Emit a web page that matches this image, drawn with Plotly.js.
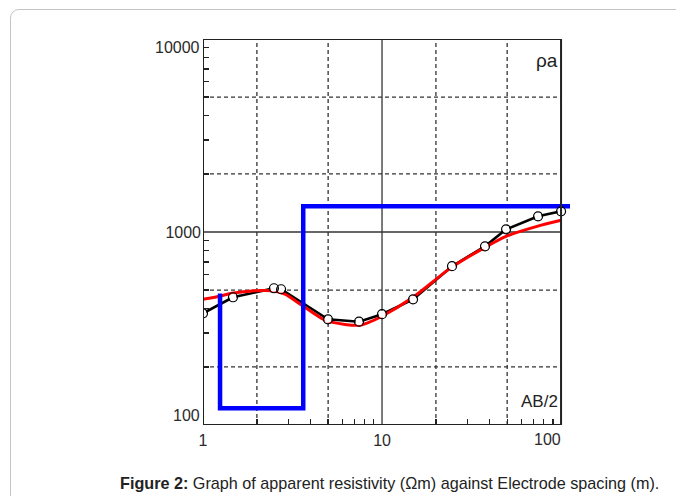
<!DOCTYPE html>
<html>
<head>
<meta charset="utf-8">
<script src="https://cdn.plot.ly/plotly-3.0.1.min.js"></script>
<style>
html,body{margin:0;padding:0;background:#fff;}
#frame{position:absolute;left:10px;top:9px;width:720px;height:540px;border:1.5px solid #c4c4c4;border-radius:9px;}
#chart{position:absolute;left:0;top:0;width:676px;height:496px;}
</style>
</head>
<body>
<div id="frame"></div>
<div id="chart"></div>
<script>
// Observed apparent resistivity (field data)
var obsAB  = [1.0, 1.47, 2.49, 2.73, 4.99, 7.44, 10, 14.9, 24.6, 37.6, 49.3, 74.4, 100];
var obsRho = [379, 459, 511, 505, 353, 343, 375, 448, 665, 843, 1032, 1206, 1280];
// Calculated (model) curve
var calcAB  = [1.0, 1.167, 1.452, 1.952, 2.43, 2.87, 3.57, 4.80, 6.21, 7.54, 8.24, 10.0, 14.9, 24.0, 37.6, 49.3, 73.4, 100];
var calcRho = [448, 459, 481, 496, 496, 476, 417, 349, 332, 329, 337, 366, 459, 648, 833, 950, 1070, 1150];
// Layered model
var layerDepth = [1.245, 3.63, 200];
var layerRho   = [480, 122, 1360];
// Tick labels
var xTickVals = [1, 10];
var xTickText = ['1', '10'];
var yTickVals = [1000];
var yTickText = ['1000'];
var xMinor = [2,3,4,5,6,7,8,9,20,30,40,50,60,70,80,90];
var yMinor = [200,300,400,500,600,700,800,900,2000,3000,4000,5000,6000,7000,8000,9000];
var xDashed = [2, 5, 20, 50];
var yDashed = [200, 500, 2000, 5000];

// model step line
var modelX = [layerDepth[0], layerDepth[0], layerDepth[1], layerDepth[1], layerDepth[2]];
var modelY = [layerRho[0], layerRho[1], layerRho[1], layerRho[2], layerRho[2]];

var traces = [
  {x: obsAB, y: obsRho, mode: 'lines', line: {color: '#000', width: 2.6}, hoverinfo: 'skip'},
  {x: calcAB, y: calcRho, mode: 'lines', line: {color: '#ff0000', width: 3, shape: 'spline', smoothing: 0.6}, hoverinfo: 'skip'},
  {x: modelX, y: modelY, mode: 'lines', line: {color: '#0000ff', width: 4.5}, hoverinfo: 'skip'},
  {x: obsAB, y: obsRho, mode: 'markers', marker: {symbol: 'circle', size: 7, color: '#fff'}, hoverinfo: 'skip'},
  {x: obsAB, y: obsRho, mode: 'markers', marker: {symbol: 'circle-open', size: 9, color: '#000', line: {width: 1.2}}, hoverinfo: 'skip'}
];

var shapes = [];
var gridCol = '#333';
xDashed.forEach(function(v){
  shapes.push({type:'line', xref:'x', yref:'y', x0:v, x1:v, y0:100, y1:10000, layer:'below', line:{color:gridCol, width:1.3, dash:'4px,3px'}});
});
yDashed.forEach(function(v){
  shapes.push({type:'line', xref:'x', yref:'y', x0:1, x1:100, y0:v, y1:v, layer:'below', line:{color:gridCol, width:1.3, dash:'4px,3px'}});
});
shapes.push({type:'line', xref:'x', yref:'y', x0:10, x1:10, y0:100, y1:10000, layer:'below', line:{color:gridCol, width:1.3}});
shapes.push({type:'line', xref:'x', yref:'y', x0:1, x1:100, y0:1000, y1:1000, layer:'below', line:{color:gridCol, width:1.3}});
shapes.push({type:'rect', xref:'x', yref:'y', x0:1, x1:100, y0:100, y1:10000, layer:'above', line:{color:'#222', width:2}});

var tickFont = {family: 'Liberation Sans, Arial, sans-serif', size: 16, color: '#2a2a2a'};
var labFont = {family: 'Liberation Sans, Arial, sans-serif', size: 17, color: '#222'};
var xr = 2.05;

var layout = {
  width: 676, height: 496,
  margin: {l: 203, r: 106, t: 39, b: 71, pad: 0},
  paper_bgcolor: 'rgba(0,0,0,0)',
  plot_bgcolor: 'rgba(0,0,0,0)',
  showlegend: false,
  xaxis: {
    type: 'log', range: [0, xr], showgrid: false, zeroline: false, showline: false,
    tickmode: 'array', tickvals: xTickVals, ticktext: xTickText, ticks: '',
    tickfont: tickFont, ticklabelstandoff: 4,
    minor: {tickmode: 'array', tickvals: xMinor, ticks: 'inside', ticklen: 6, tickwidth: 1.3, tickcolor: '#222', showgrid: false}
  },
  yaxis: {
    type: 'log', range: [2, 4], showgrid: false, zeroline: false, showline: false,
    tickmode: 'array', tickvals: yTickVals, ticktext: yTickText, ticks: '',
    tickfont: tickFont, ticklabelstandoff: 1,
    minor: {tickmode: 'array', tickvals: yMinor, ticks: 'inside', ticklen: 6, tickwidth: 1.3, tickcolor: '#222', showgrid: false}
  },
  shapes: shapes,
  annotations: [
    {text: '10000', xref: 'paper', yref: 'paper', x: 0, y: 1, xanchor: 'right', yanchor: 'middle', xshift: -1, yshift: -8, showarrow: false, font: tickFont},
    {text: '100', xref: 'paper', yref: 'paper', x: 0, y: 0, xanchor: 'right', yanchor: 'middle', xshift: -1, yshift: 10, showarrow: false, font: tickFont},
    {text: '100', xref: 'paper', yref: 'paper', x: 2/xr, y: 0, xanchor: 'center', yanchor: 'top', xshift: -14, yshift: -4, showarrow: false, font: tickFont},
    {text: 'ρa', xref: 'paper', yref: 'paper', x: (560-203)/367, y: (425-61)/386, xanchor: 'right', yanchor: 'middle', showarrow: false, font: {family: 'Liberation Sans, Arial, sans-serif', size: 19, color: '#222'}},
    {text: 'AB/2', xref: 'paper', yref: 'paper', x: (560-203)/367, y: (425-401)/386, xanchor: 'right', yanchor: 'middle', showarrow: false, font: labFont},
    {text: '<b>Figure 2:</b> Graph of apparent resistivity (Ωm) against Electrode spacing (m).', xref: 'paper', yref: 'paper', x: (389-203)/367, y: (425-483)/386, xanchor: 'center', yanchor: 'middle', showarrow: false, font: {family: 'Liberation Sans, Arial, sans-serif', size: 16.2, color: '#222'}}
  ]
};

Plotly.newPlot('chart', traces, layout, {staticPlot: true, displayModeBar: false});
</script>
</body>
</html>
